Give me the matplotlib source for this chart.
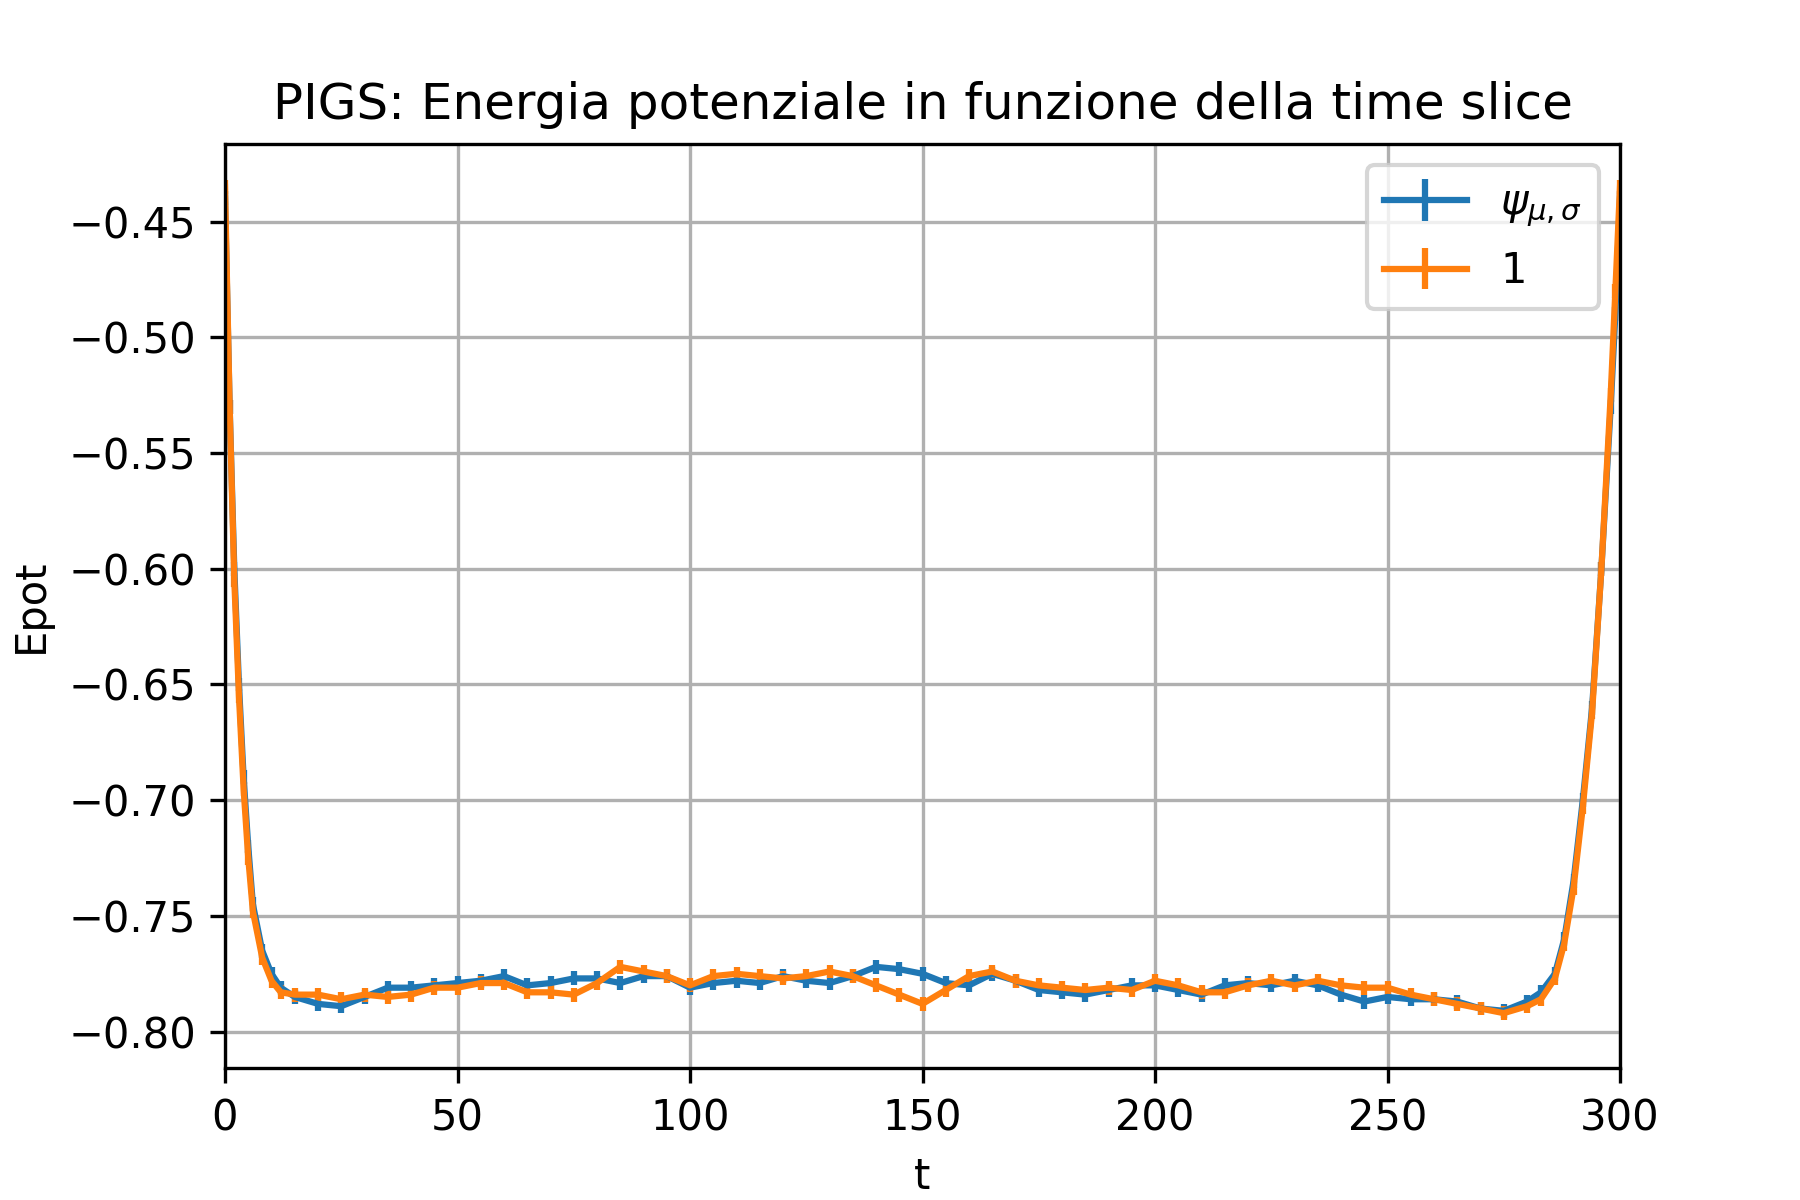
import matplotlib
matplotlib.use("Agg")
import matplotlib.pyplot as plt

t = [0, 1, 2, 3, 4, 5, 6, 8, 10, 12, 15, 20, 25, 30, 35, 40, 45, 50, 55, 60, 65, 70,
     75, 80, 85, 90, 95, 100, 105, 110, 115, 120, 125, 130, 135, 140, 145, 150, 155,
     160, 165, 170, 175, 180, 185, 190, 195, 200, 205, 210, 215, 220, 225, 230, 235,
     240, 245, 250, 255, 260, 265, 270, 275, 280, 283, 286, 288, 290, 292, 294, 296,
     298, 299, 300]

epot_psi = [-0.44, -0.53, -0.60, -0.65, -0.69, -0.72, -0.745, -0.765, -0.775, -0.781,
            -0.785, -0.788, -0.789, -0.785, -0.781, -0.781, -0.780, -0.779, -0.778,
            -0.776, -0.780, -0.779, -0.777, -0.777, -0.779, -0.776, -0.776, -0.781,
            -0.779, -0.778, -0.779, -0.776, -0.778, -0.779, -0.776, -0.772, -0.773,
            -0.775, -0.779, -0.780, -0.775, -0.778, -0.782, -0.783, -0.784, -0.782,
            -0.780, -0.780, -0.782, -0.784, -0.780, -0.779, -0.780, -0.778, -0.780,
            -0.784, -0.787, -0.785, -0.786, -0.786, -0.787, -0.790, -0.791, -0.787,
            -0.783, -0.775, -0.760, -0.735, -0.700, -0.660, -0.600, -0.530, -0.490, -0.44]

epot_one = [-0.435, -0.53, -0.605, -0.655, -0.695, -0.725, -0.748, -0.768, -0.778, -0.783,
            -0.784, -0.784, -0.786, -0.784, -0.785, -0.784, -0.781, -0.781, -0.779,
            -0.779, -0.783, -0.783, -0.784, -0.779, -0.772, -0.774, -0.776, -0.780,
            -0.776, -0.775, -0.776, -0.777, -0.776, -0.774, -0.776, -0.780, -0.784,
            -0.788, -0.782, -0.776, -0.774, -0.778, -0.780, -0.781, -0.782, -0.781,
            -0.782, -0.778, -0.780, -0.783, -0.783, -0.780, -0.778, -0.780, -0.778,
            -0.780, -0.781, -0.781, -0.784, -0.786, -0.788, -0.790, -0.792, -0.789,
            -0.786, -0.777, -0.762, -0.738, -0.703, -0.662, -0.600, -0.525, -0.480, -0.435]

err = [0.003] * len(t)

fig, ax = plt.subplots(figsize=(6, 4), dpi=300)
ax.errorbar(t, epot_psi, yerr=err, color='#1f77b4', label=r'$\psi_{\mu,\sigma}$')
ax.errorbar(t, epot_one, yerr=err, color='#ff7f0e', label='1')
ax.set_xlim(0, 300)
ax.set_ylim(-0.8157, -0.4165)
ax.set_title('PIGS: Energia potenziale in funzione della time slice')
ax.set_xlabel('t')
ax.set_ylabel('Epot')
ax.grid(True)
ax.legend(loc='upper right')
fig.savefig('out.png', dpi=300)
